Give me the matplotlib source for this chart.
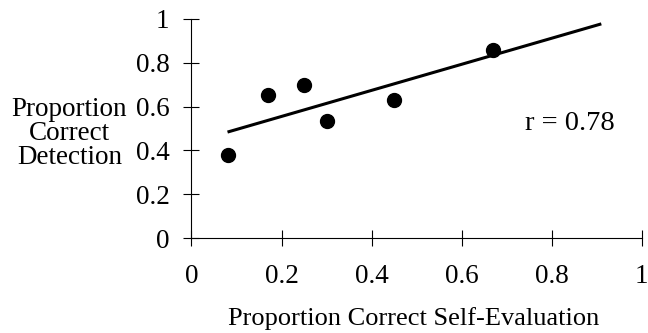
import numpy as np
import matplotlib
matplotlib.use('Agg')
import matplotlib.pyplot as plt

plt.rcParams['font.family'] = ['Liberation Serif', 'DejaVu Serif']

# data
selfEval  = [0.08, 0.17, 0.25, 0.30, 0.45, 0.67]
detection = [0.38, 0.655, 0.70, 0.535, 0.63, 0.86]
fitRange  = [0.08, 0.91]
rText     = "r = 0.78"

ticks = [0, 0.2, 0.4, 0.6, 0.8, 1]
tickLabels = ["0", "0.2", "0.4", "0.6", "0.8", "1"]

fs = 19.5

fig = plt.figure(figsize=(6.48, 3.33), dpi=100)
ax = fig.add_axes([0.2955, 0.285, 0.695, 0.658])

# least squares line through the points
slope, icpt = np.polyfit(selfEval, detection, 1)
fx = np.array(fitRange)
ax.plot(fx, slope * fx + icpt, color='black', linewidth=2.2, solid_capstyle='butt')
ax.plot(selfEval, detection, linestyle='None', marker='o', markersize=10,
        color='black', clip_on=False)

ax.text(0.74, 0.525, rText, fontsize=20.5, va='center', ha='left')

ax.set_xlim(0, 1)
ax.set_ylim(0, 1)
ax.set_xticks(ticks)
ax.set_xticklabels(tickLabels)
ax.set_yticks(ticks)
ax.set_yticklabels(tickLabels)
for s in ['top', 'right']:
    ax.spines[s].set_visible(False)
for s in ['left', 'bottom']:
    ax.spines[s].set_linewidth(0.8)
ax.tick_params(direction='inout', length=11.5, width=0.8, labelsize=fs)
ax.tick_params(axis='x', pad=13)
ax.tick_params(axis='y', pad=10)

fig.text(0.639, 0.045, "Proportion Correct Self-Evaluation", fontsize=19,
         ha='center', va='center')
fig.text(0.107, 0.60, "Proportion\nCorrect\nDetection", fontsize=fs,
         ha='center', va='center', linespacing=0.95)

fig.savefig("out.png", dpi=100)
